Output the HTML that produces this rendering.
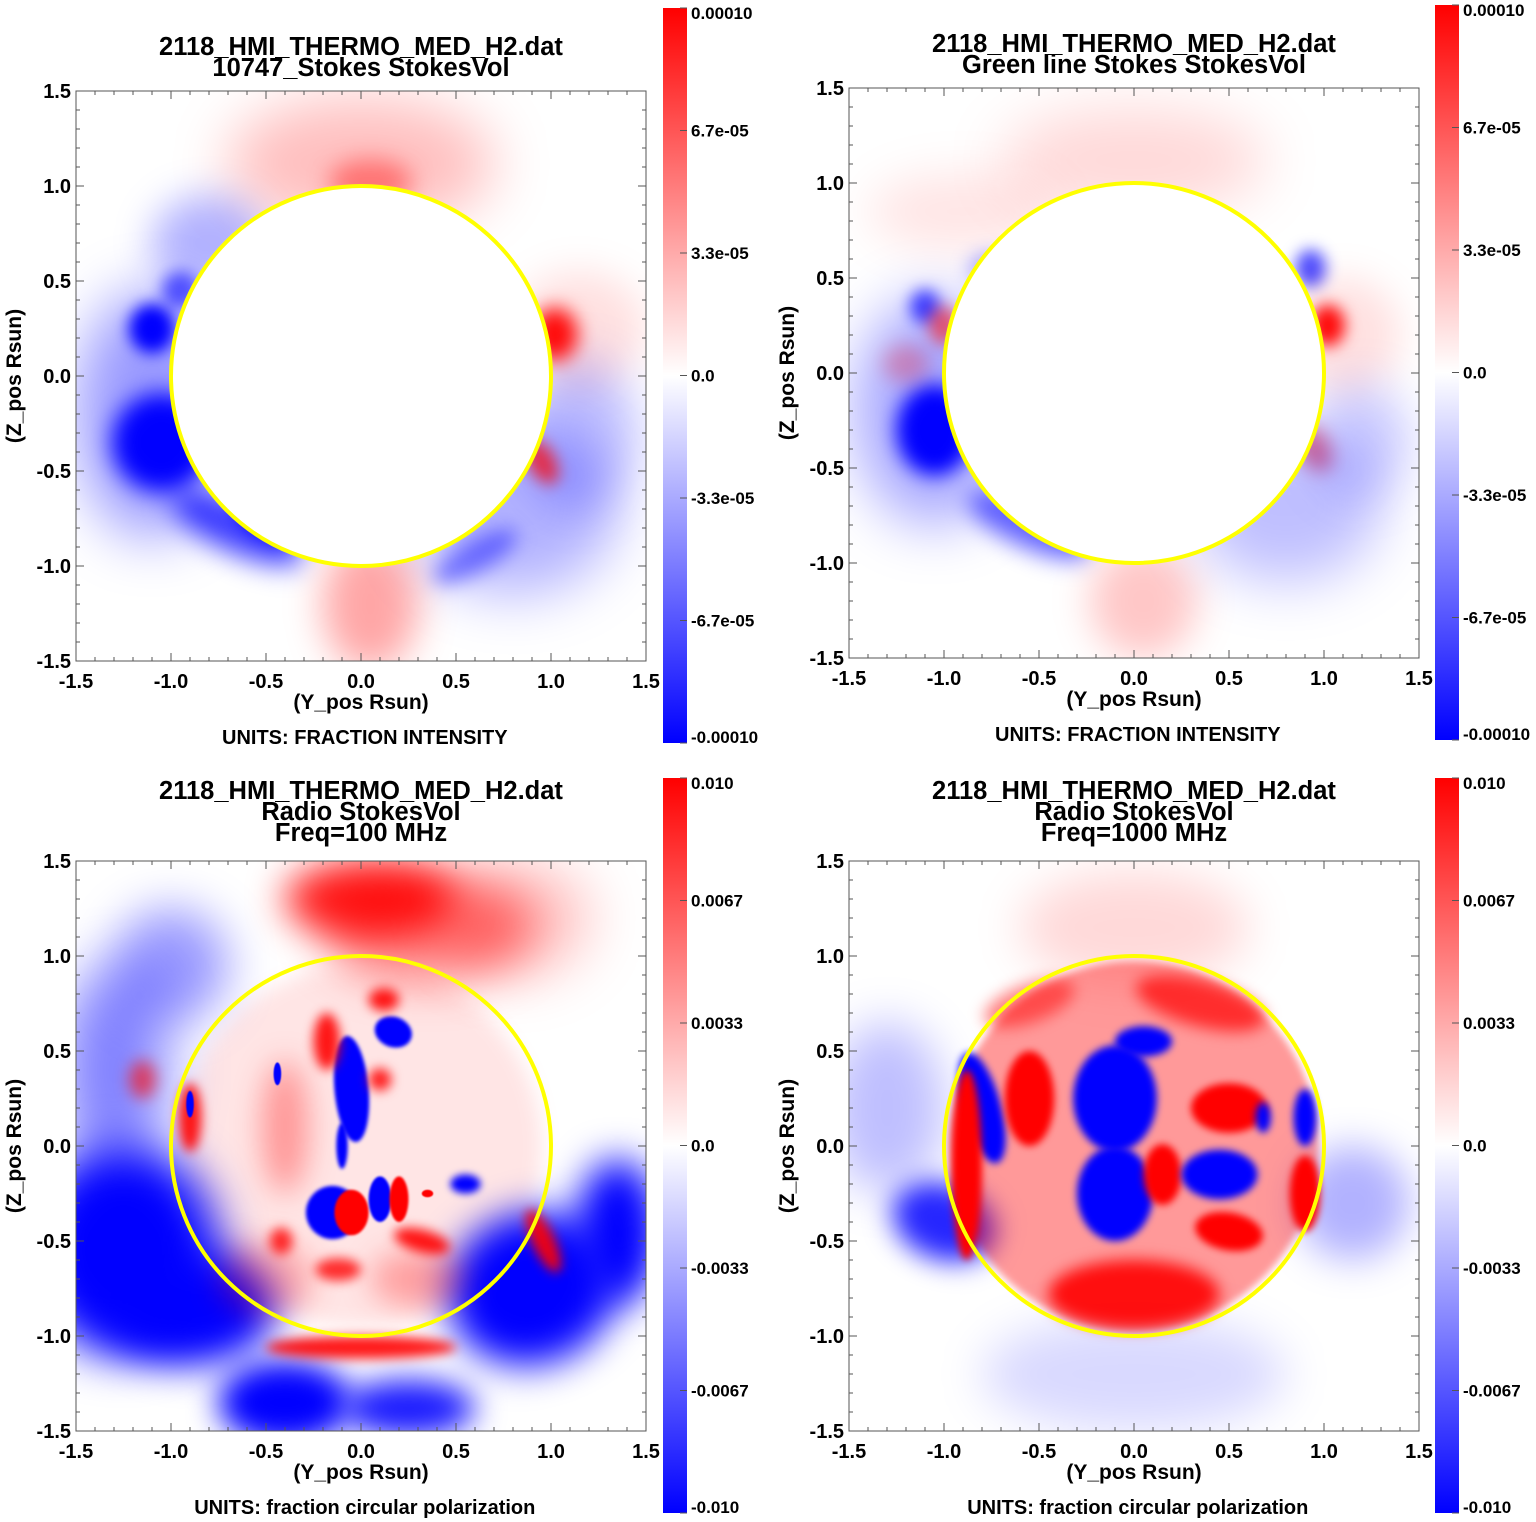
<!DOCTYPE html>
<html><head><meta charset="utf-8"><style>
html,body{margin:0;padding:0;background:#fff}
svg{display:block}
text{font-family:"Liberation Sans",Arial,sans-serif;font-weight:bold;fill:#000}
</style></head><body>
<svg id="fig" width="1536" height="1522" viewBox="0 0 1536 1522" xmlns="http://www.w3.org/2000/svg">
<defs>
<linearGradient id="cbar" x1="0" y1="0" x2="0" y2="1">
<stop offset="0" stop-color="#ff0000"/><stop offset="0.5" stop-color="#ffffff"/><stop offset="1" stop-color="#0000ff"/>
</linearGradient>
</defs>
</svg>
<script>
// axis ticks
const axisTicks = [-1.5,-1.0,-0.5,0.0,0.5,1.0,1.5];
const axisTickLabels = ["-1.5","-1.0","-0.5","0.0","0.5","1.0","1.5"];
const cbarTicksTop = ["0.00010","6.7e-05","3.3e-05","0.0","-3.3e-05","-6.7e-05","-0.00010"];
const cbarTicksBot = ["0.010","0.0067","0.0033","0.0","-0.0033","-0.0067","-0.010"];
const cbarTickFrac = [0,1/6,1/3,1/2,2/3,5/6,1];
// blobs: [y_pos, z_pos, rx, ry, rotation deg, value(-1..1), blur (Rsun)]
const blobs1 = [
 [0,1.12,0.7,0.35,0,0.25,0.15],[0.05,1.02,0.22,0.12,0,0.4,0.06],
 [-1.1,0.25,0.12,0.13,0,-1,0.04],[-1.05,-0.35,0.26,0.26,0,-1,0.06],
 [-1.1,-0.2,0.4,0.65,0,-0.4,0.15],[-0.65,-0.8,0.38,0.13,-25,-0.75,0.07],
 [0.8,-0.7,0.55,0.45,0,-0.3,0.15],[1.15,-0.3,0.3,0.4,0,-0.25,0.12],
 [-0.8,0.7,0.3,0.25,0,-0.3,0.1],[-0.95,0.45,0.1,0.1,0,-0.6,0.04],
 [1.02,0.22,0.12,0.14,0,0.95,0.05],[1.15,0.25,0.35,0.3,0,0.12,0.1],
 [0.05,-1.2,0.25,0.35,0,0.35,0.1],[0.95,-0.45,0.07,0.13,30,0.7,0.04],
 [0.6,-0.95,0.25,0.08,30,-0.45,0.05],[-0.5,-0.75,0.2,0.1,-30,-0.9,0.04]
];
const blobs2 = [
 [0,1.12,0.7,0.28,0,0.15,0.15],[-0.9,0.85,0.5,0.2,0,0.1,0.12],
 [-1.05,-0.3,0.2,0.24,0,-1,0.05],[-1.05,-0.2,0.42,0.6,0,-0.35,0.15],
 [-1.1,0.35,0.08,0.09,0,-0.7,0.04],[-0.75,0.55,0.12,0.08,0,-0.35,0.05],
 [-1.2,0.05,0.12,0.1,0,0.25,0.05],[-0.55,-0.8,0.35,0.12,-25,-0.6,0.06],
 [0.93,0.55,0.08,0.1,0,-0.7,0.04],[1.02,0.25,0.09,0.11,0,0.95,0.04],
 [1.1,0.2,0.3,0.3,0,0.12,0.1],[0.95,-0.4,0.08,0.13,30,0.5,0.05],
 [0.05,-1.2,0.28,0.3,0,0.22,0.1],[0.8,-0.7,0.5,0.4,0,-0.25,0.15],
 [-1.0,0.25,0.08,0.1,0,0.55,0.04],[1.2,-0.35,0.25,0.3,0,-0.2,0.12]
];
const blobs3 = [
 [0,0,0.95,0.95,0,0.1,0.05],
 [-1.25,-0.55,0.5,0.55,0,-1,0.12],[-0.9,-0.85,0.45,0.3,0,-1,0.1],
 [-0.4,-1.35,0.35,0.22,0,-1,0.08],[0.25,-1.38,0.35,0.15,0,-0.9,0.08],
 [0.9,-0.75,0.45,0.4,20,-1,0.1],[1.35,-0.45,0.22,0.38,0,-1,0.1],
 [-1.3,0.4,0.28,0.55,0,-0.5,0.15],[-1.0,0.95,0.3,0.3,0,-0.4,0.12],
 [0.05,1.3,0.45,0.2,0,0.9,0.1],[0.35,1.15,0.55,0.28,0,0.5,0.12],[0.8,1.2,0.4,0.3,0,0.25,0.15],
 [0,-1.06,0.5,0.06,0,0.9,0.03],[0.96,-0.5,0.06,0.18,25,0.9,0.03],
 [-0.9,0.15,0.06,0.18,0,0.9,0.03],[-1.15,0.35,0.07,0.1,0,0.6,0.04],
 [-0.4,0.1,0.12,0.35,0,0.35,0.08],[0.3,-0.7,0.25,0.15,0,0.3,0.08],[-0.5,-0.7,0.25,0.2,0,0.25,0.08],
 [-0.05,0.3,0.09,0.28,5,-1,0.01],[0.17,0.6,0.1,0.08,-20,-1,0.01],
 [-0.1,0.0,0.03,0.12,0,-1,0.01],[-0.15,-0.35,0.14,0.14,0,-1,0.01],
 [-0.18,0.55,0.07,0.15,0,0.9,0.03],[0.12,0.77,0.08,0.06,0,0.9,0.03],[0.1,0.35,0.06,0.06,0,0.85,0.03],
 [-0.05,-0.35,0.09,0.12,0,1,0.005],[0.1,-0.28,0.06,0.12,0,-1,0.005],[0.2,-0.28,0.05,0.12,0,1,0.005],
 [0.32,-0.5,0.15,0.06,-15,0.9,0.03],[0.55,-0.2,0.08,0.05,0,-1,0.02],
 [-0.42,-0.5,0.06,0.07,0,0.8,0.03],[-0.12,-0.65,0.12,0.06,0,0.8,0.03],
 [-0.9,0.22,0.02,0.07,0,-1,0.003],[-0.44,0.38,0.02,0.06,0,-1,0.003],[0.35,-0.25,0.03,0.02,0,1,0.003]
];
const blobs4 = [
 [0,1.15,0.6,0.3,0,0.15,0.12],[-1.3,0.2,0.3,0.45,0,-0.25,0.12],
 [-1.0,-0.4,0.28,0.2,-20,-0.85,0.07],[0,-1.2,0.8,0.3,0,-0.15,0.12],[1.15,-0.3,0.3,0.3,0,-0.3,0.1],
 [0,0,0.97,0.97,0,0.4,0.02],
 [0.35,0.75,0.35,0.12,-15,0.7,0.04],[-0.55,0.75,0.25,0.1,20,0.5,0.04],
 [-0.8,0.2,0.1,0.3,15,-1,0.02],[-0.55,0.25,0.13,0.25,0,1,0.02],
 [-0.1,0.25,0.22,0.28,0,-1,0.02],[0.05,0.55,0.15,0.08,0,-1,0.02],
 [-0.1,-0.25,0.2,0.25,0,-1,0.02],[0.5,0.2,0.2,0.13,0,1,0.02],
 [0.15,-0.15,0.1,0.16,0,1,0.02],[0.45,-0.15,0.2,0.13,0,-1,0.02],
 [0.5,-0.45,0.18,0.1,-10,1,0.02],[0.9,0.15,0.06,0.15,0,-1,0.02],
 [0.68,0.15,0.04,0.08,0,-1,0.02],[0.9,-0.25,0.08,0.2,0,1,0.02],
 [0,-0.78,0.45,0.18,0,0.9,0.04],[-0.88,-0.1,0.08,0.5,0,1,0.02]
];
const panels = [
 {cx:361,cy:376,cbx:663,cby:8,titles:["2118_HMI_THERMO_MED_H2.dat","10747_Stokes StokesVol"],ty:[55,76],units:"UNITS: FRACTION INTENSITY",ticks:cbarTicksTop,blobs:blobs1,disk:true,id:"p1"},
 {cx:1134,cy:373,cbx:1435,cby:5,titles:["2118_HMI_THERMO_MED_H2.dat","Green line Stokes StokesVol"],ty:[52,73],units:"UNITS: FRACTION INTENSITY",ticks:cbarTicksTop,blobs:blobs2,disk:true,id:"p2"},
 {cx:361,cy:1146,cbx:663,cby:778,titles:["2118_HMI_THERMO_MED_H2.dat","Radio StokesVol","Freq=100 MHz"],ty:[799,820,841],units:"UNITS: fraction circular polarization",ticks:cbarTicksBot,blobs:blobs3,disk:false,id:"p3"},
 {cx:1134,cy:1146,cbx:1435,cby:778,titles:["2118_HMI_THERMO_MED_H2.dat","Radio StokesVol","Freq=1000 MHz"],ty:[799,820,841],units:"UNITS: fraction circular polarization",ticks:cbarTicksBot,blobs:blobs4,disk:false,id:"p4"}
];
const NS="http://www.w3.org/2000/svg", S=190;
const svg=document.getElementById('fig'), defs=svg.querySelector('defs');
function mk(tag,attrs,parent){const e=document.createElementNS(NS,tag);for(const k in attrs)e.setAttribute(k,attrs[k]);(parent||svg).appendChild(e);return e;}
let fid=0;
panels.forEach(p=>{
 const X=v=>p.cx+v*S, Y=v=>p.cy-v*S;
 const g=mk('g',{});
 
 
 const cp=mk('clipPath',{id:'clip'+p.id},defs);
 mk('rect',{x:X(-1.5),y:Y(1.5),width:3*S,height:3*S},cp);
 const hm=mk('g',{'clip-path':'url(#clip'+p.id+')'},g);
 
 
 mk('rect',{x:X(-1.5),y:Y(1.5),width:3*S,height:3*S,fill:'#fff'},hm);
 p.blobs.forEach(b=>{
  const f=mk('filter',{id:'f'+(fid),x:'-100%',y:'-100%',width:'300%',height:'300%'},defs);
  mk('feGaussianBlur',{stdDeviation:b[6]*S},f);
  const col=b[5]>0?'#ff0000':'#0000ff';
  const e=mk('ellipse',{cx:X(b[0]),cy:Y(b[1]),rx:b[2]*S,ry:b[3]*S,fill:col,'fill-opacity':Math.abs(b[5]),filter:'url(#f'+fid+')',transform:`rotate(${-b[4]} ${X(b[0])} ${Y(b[1])})`},hm);
  
  
  fid++;
 });
 if(p.disk){const d=mk('circle',{cx:X(0),cy:Y(0),r:S,fill:'#fff'},hm);
  
  }
 const c=mk('circle',{cx:X(0),cy:Y(0),r:S,fill:'none',stroke:'#ffff00','stroke-width':4},g);
 
 
 const fr=mk('rect',{x:X(-1.5),y:Y(1.5),width:3*S,height:3*S,fill:'none',stroke:'#555','stroke-width':1},g);
 
 
 for(let i=-15;i<=15;i++){const v=i/10,L=(i%5==0)?8:4;
  mk('line',{x1:X(v),y1:Y(-1.5),x2:X(v),y2:Y(-1.5)-L,stroke:'#555'},g);
  mk('line',{x1:X(v),y1:Y(1.5),x2:X(v),y2:Y(1.5)+L,stroke:'#555'},g);
  mk('line',{x1:X(-1.5),y1:Y(v),x2:X(-1.5)+L,y2:Y(v),stroke:'#555'},g);
  mk('line',{x1:X(1.5),y1:Y(v),x2:X(1.5)-L,y2:Y(v),stroke:'#555'},g);}
 axisTicks.forEach((v,i)=>{
  const t=mk('text',{x:X(v),y:Y(-1.5)+27,'text-anchor':'middle','font-size':20},g);t.textContent=axisTickLabels[i];
  
  const u=mk('text',{x:X(-1.5)-5,y:Y(v)+7,'text-anchor':'end','font-size':20},g);u.textContent=axisTickLabels[i];
  
 });
 const xl=mk('text',{x:X(0),y:Y(-1.5)+48,'text-anchor':'middle','font-size':21},g);xl.textContent='(Y_pos Rsun)';
 
 const yl=mk('text',{x:0,y:0,'text-anchor':'middle','font-size':21,transform:`translate(${X(-1.5)-55},${Y(0)}) rotate(-90)`},g);yl.textContent='(Z_pos Rsun)';
 
 const un=mk('text',{x:X(0.02),y:Y(-1.5)+83,'text-anchor':'middle','font-size':20},g);un.textContent=p.units;
 
 p.titles.forEach((t,i)=>{const e=mk('text',{x:X(0),y:p.ty[i],'text-anchor':'middle','font-size':25.5},g);e.textContent=t;
  });
 const cb=mk('rect',{x:p.cbx,y:p.cby,width:24,height:735,fill:'url(#cbar)'},g);
 
 cbarTickFrac.forEach((f,i)=>{const yy=p.cby+f*735;
  mk('line',{x1:p.cbx+24,y1:yy,x2:p.cbx+17,y2:yy,stroke:'#555'},g);
  const t=mk('text',{x:p.cbx+28,y:Math.min(Math.max(yy+6,p.cby+11),p.cby+735),'font-size':17},g);t.textContent=p.ticks[i];
  });
});
</script>
</body></html>
